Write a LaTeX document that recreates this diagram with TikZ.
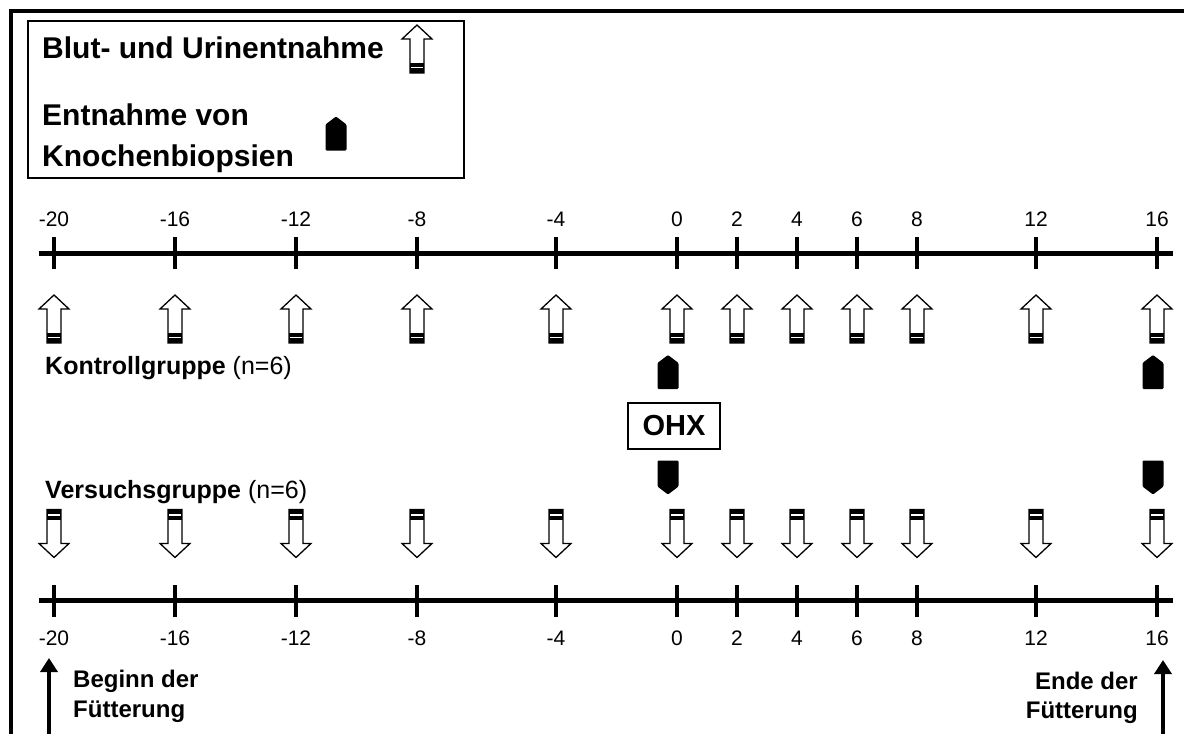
\documentclass[tikz,border=0pt]{standalone}
\usepackage{fontspec}
\setmainfont{Liberation Sans}
\usetikzlibrary{arrows.meta}

\tikzset{
  % open arrow for blood and urine sampling (pointing up)
  sampleup/.pic={
    \draw[line width=1.3pt, fill=white, line join=miter]
      (0,-24) -- (15,-10) -- (7,-10) -- (7,24) -- (-7,24) -- (-7,-10) -- (-15,-10) -- cycle;
    \fill (-7,14) rectangle (7,24);
    \draw[white, line width=1.6pt] (-5.6,18.3) -- (5.6,18.3);
  },
  % same arrow pointing down
  sampledown/.pic={
    \draw[line width=1.3pt, fill=white, line join=miter]
      (0,24) -- (15,10) -- (7,10) -- (7,-24) -- (-7,-24) -- (-7,10) -- (-15,10) -- cycle;
    \fill (-7,-14) rectangle (7,-24);
    \draw[white, line width=1.6pt] (-5.6,-18.3) -- (5.6,-18.3);
  },
  % solid marker for bone biopsies
  biopsyup/.pic={
    \fill[rounded corners=1.2pt] (0,-17) -- (10.5,-9) -- (10.5,17) -- (-10.5,17) -- (-10.5,-9) -- cycle;
  },
  biopsydown/.pic={
    \fill[rounded corners=1.2pt] (0,17) -- (10.5,9) -- (10.5,-17) -- (-10.5,-17) -- (-10.5,9) -- cycle;
  },
  axisline/.style={line width=5pt},
  tickline/.style={line width=4pt},
  ticklabel/.style={font=\fontsize{21}{24}\selectfont, anchor=base, inner sep=0pt},
  grouplabel/.style={font=\fontsize{25}{28}\selectfont, anchor=base west, inner sep=0pt},
  legendtext/.style={font=\fontsize{30}{34}\selectfont\bfseries, anchor=base west, inner sep=0pt},
  feedtext/.style={font=\fontsize{24}{28}\selectfont\bfseries, inner sep=0pt},
  feedarrow/.style={line width=4.5pt, -{Triangle[length=14pt,width=17pt]}},
}

\begin{document}
\begin{tikzpicture}[x=1pt,y=-1pt]
\useasboundingbox (0,0) rectangle (1184,734);

% outer frame (open to the right and below)
\draw[line width=4pt] (10.5,734) -- (10.5,11) -- (1184,11);

% legend
\draw[line width=2.5pt] (28,21) rectangle (464,178);
\node[legendtext] (lg1) at (42,58) {Blut- und Urinentnahme};
\node[legendtext] (lg2) at (42,125) {Entnahme von};
\node[legendtext] (lg3) at (42,166) {Knochenbiopsien};
\pic at (417,49) {sampleup};
\pic at (336,133.5) {biopsyup};

% time axes
\coordinate (ta) at (39,253);
\coordinate (tb) at (1173,253);
\coordinate (ba) at (39,600);
\coordinate (bb) at (1173,600);
\draw[axisline] (ta) -- (tb);
\draw[axisline] (ba) -- (bb);

\foreach \x/\t in {54/-20,175/-16,296/-12,417/-8,556/-4,677/0,737/2,797/4,857/6,917/8,1036/12,1157/16}{
  \draw[tickline] (\x,237) -- (\x,269);
  \draw[tickline] (\x,585) -- (\x,617);
  \node[ticklabel] at (\x,226) {\t};
  \node[ticklabel] at (\x,645) {\t};
  \pic at (\x,319) {sampleup};
  \pic at (\x,533.5) {sampledown};
}

% biopsies
\pic at (668,372) {biopsyup};
\pic at (1153,372) {biopsyup};
\pic at (668,477.5) {biopsydown};
\pic at (1153,477.5) {biopsydown};

% groups
\node[grouplabel] (kg) at (45,374) {\textbf{Kontrollgruppe} (n=6)};
\node[grouplabel] (vg) at (45,498) {\textbf{Versuchsgruppe} (n=6)};

% treatment box
\node[draw, line width=2pt, minimum width=92pt, minimum height=46pt, inner sep=0pt,
      font=\fontsize{29}{32}\selectfont\bfseries] (ohx) at (674,426) {OHX};

% start and end of feeding
\coordinate (fs0) at (49,734);
\coordinate (fs1) at (49,658);
\coordinate (fe0) at (1163,734);
\coordinate (fe1) at (1163,660);
\draw[feedarrow] (fs0) -- (fs1);
\draw[feedarrow] (fe0) -- (fe1);
\node[feedtext, anchor=base west] (b1) at (73,687) {Beginn der};
\node[feedtext, anchor=base west] (b2) at (73,717) {Fütterung};
\node[feedtext, anchor=base east] (e1) at (1138,689) {Ende der};
\node[feedtext, anchor=base east] (e2) at (1138,718) {Fütterung};
\end{tikzpicture}
\end{document}
